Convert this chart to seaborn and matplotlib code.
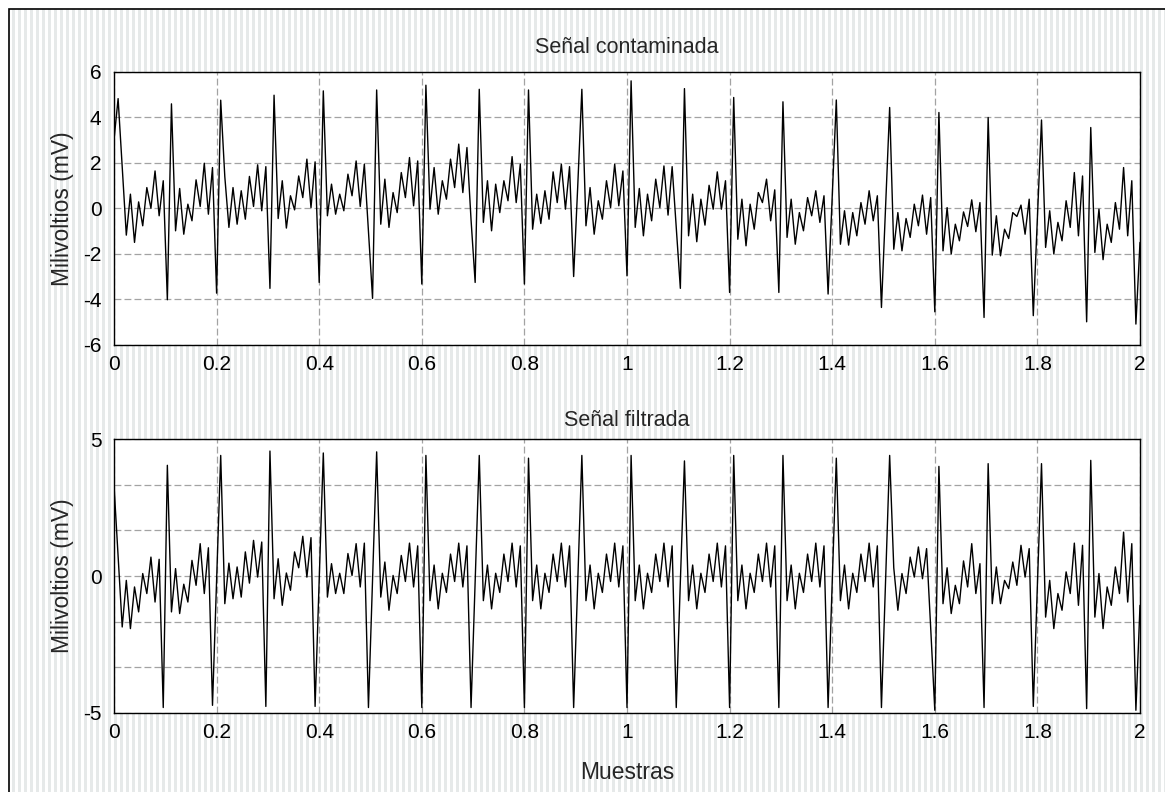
import numpy as np
import pandas as pd
import matplotlib
matplotlib.use("Agg")
import matplotlib.pyplot as plt
from matplotlib.colors import ListedColormap
import seaborn as sns

# ---------------- data ----------------
fs = 125.0  # muestras por segundo

contaminada = [
    3.02, 4.83, 1.80, -1.17, 0.63, -1.49, 0.29, -0.76, 0.92, 0.01, 1.65, -0.32, 1.22, -4.01,
    4.60, -0.98, 0.88, -1.13, 0.19, -0.54, 1.26, 0.09, 1.99, -0.25, 1.80, -3.72,
    4.76, 1.40, -0.83, 0.92, -0.69, 0.78, -0.47, 1.41, 0.09, 1.92, -0.10, 1.84, -3.51,
    4.98, -0.44, 1.22, -0.86, 0.56, -0.06, 1.43, 0.48, 2.17, 0.04, 2.05, -3.25,
    5.17, -0.32, 1.07, -0.25, 0.63, -0.10, 1.51, 0.56, 2.09, 0.09, 1.95, -1.00, -3.95,
    5.21, -0.69, 1.29, -0.83, 0.70, -0.18, 1.58, 0.48, 2.24, 0.12, 2.09, -3.32,
    5.42, -0.03, 1.80, -0.25, 1.22, 0.41, 2.17, 0.92, 2.83, 0.70, 2.68, -0.50, -3.25,
    5.24, -0.61, 1.22, -0.98, 1.07, -0.18, 1.22, 0.34, 2.28, 0.26, 1.95, -3.32,
    5.21, -0.91, 0.63, -0.66, 0.78, -0.47, 1.61, 0.26, 1.95, -0.03, 1.84, -2.99, 1.00,
    5.24, -0.76, 0.92, -1.13, 0.34, -0.47, 1.22, 0.04, 1.95, 0.12, 1.65, -2.96,
    5.61, -0.83, 0.88, -1.20, 0.63, -0.54, 1.29, 0.04, 1.87, -0.29, 1.84, -0.80, -3.51,
    5.27, -1.20, 0.63, -1.46, 0.41, -0.73, 1.02, -0.03, 1.61, -0.03, 1.22, -3.69,
    4.88, -1.35, 0.41, -1.64, 0.19, -0.91, 0.70, 0.26, 1.29, -0.54, 0.82, -3.69,
    4.69, -1.27, 0.41, -1.57, -0.18, -0.98, 0.48, -0.32, 0.78, -0.61, 0.56, -3.76, 0.50,
    4.77, -1.57, -0.10, -1.61, -0.18, -1.20, 0.26, -0.69, 0.78, -0.54, 0.56, -4.35, 0.00,
    4.44, -1.79, -0.18, -1.86, -0.44, -1.27, 0.19, -0.76, 0.59, -1.13, 0.48, -4.54,
    4.22, -1.86, 0.04, -2.00, -0.69, -1.42, -0.15, -0.79, 0.38, -1.02, 0.26, -4.79,
    4.00, -2.05, -0.32, -2.08, -0.91, -1.32, -0.18, -0.35, 0.15, -1.13, 0.41, -4.71, -0.40,
    3.89, -1.71, -0.10, -2.00, -0.61, -1.42, 0.34, -0.83, 1.58, -1.20, 1.43, -4.98,
    3.56, -1.93, -0.03, -2.25, -0.69, -1.49, 0.26, -0.91, 1.80, -1.20, 1.22, -5.08, -1.49,
]

filtrada = [
    3.31, 0.70, -1.86, -0.16, -1.92, -0.40, -1.31, 0.09, -0.64, 0.69, -0.95, 0.61, -4.80,
    4.04, -1.31, 0.27, -1.37, -0.30, -0.95, 0.57, -0.34, 1.18, -0.64, 1.03, -4.72, -0.20,
    4.40, -1.01, 0.47, -0.83, 0.33, -0.77, 0.88, -0.26, 1.30, -0.04, 1.24, -4.76,
    4.56, -0.83, 0.63, -1.07, 0.11, -0.52, 0.88, 0.30, 1.45, -0.04, 1.40, -4.76, -0.10,
    4.49, -0.77, 0.45, -0.64, 0.10, -0.64, 0.82, 0.02, 1.18, -0.40, 1.20, -4.80, -0.10,
    4.53, -0.77, 0.51, -1.25, 0.02, -0.64, 0.75, -0.20, 1.20, -0.40, 1.10, -4.80,
    4.40, -0.90, 0.40, -1.20, 0.10, -0.60, 0.80, -0.20, 1.20, -0.40, 1.10, -4.80, -0.20,
    4.40, -0.90, 0.40, -1.20, 0.10, -0.60, 0.80, -0.20, 1.20, -0.40, 1.10, -4.80,
    4.30, -0.90, 0.40, -1.20, 0.10, -0.60, 0.80, -0.20, 1.20, -0.40, 1.10, -4.80, -0.20,
    4.40, -0.90, 0.40, -1.20, 0.10, -0.60, 0.80, -0.20, 1.20, -0.40, 1.10, -4.80,
    4.40, -0.90, 0.40, -1.20, 0.10, -0.60, 0.80, -0.20, 1.20, -0.40, 1.10, -4.80, -0.20,
    4.20, -0.90, 0.40, -1.20, 0.10, -0.60, 0.80, -0.20, 1.20, -0.40, 1.10, -4.80,
    4.40, -0.90, 0.40, -1.20, 0.10, -0.60, 0.80, -0.20, 1.20, -0.40, 1.10, -4.80,
    4.40, -0.90, 0.40, -1.20, 0.10, -0.60, 0.80, -0.20, 1.20, -0.40, 1.10, -4.80, -0.20,
    4.30, -0.90, 0.40, -1.20, 0.10, -0.60, 0.80, -0.20, 1.20, -0.40, 1.10, -4.80, -0.20,
    4.40, 0.30, -1.25, 0.09, -0.64, 0.69, -0.04, 1.06, -0.10, 1.00, -1.90, -4.90,
    4.00, -1.01, 0.30, -1.37, -0.34, -1.01, 0.55, -0.40, 1.18, -0.64, 0.45, -4.80,
    4.10, -1.01, 0.33, -1.01, -0.16, -0.46, 0.51, -0.34, 1.12, -0.04, 1.00, -4.76, -0.30,
    4.10, -1.50, -0.16, -1.92, -0.64, -1.25, 0.15, -0.64, 1.20, -1.07, 1.12, -4.84,
    4.22, -1.50, 0.09, -1.92, -0.40, -1.07, 0.33, -0.64, 1.60, -0.95, 1.18, -4.90, -1.07,
]

xticks = [0, 0.2, 0.4, 0.6, 0.8, 1.0, 1.2, 1.4, 1.6, 1.8, 2.0]
xtick_labels = ["0", "0.2", "0.4", "0.6", "0.8", "1", "1.2", "1.4", "1.6", "1.8", "2"]
top_yticks = [-6, -4, -2, 0, 2, 4, 6]
top_ylabels = ["-6", "-4", "-2", "0", "2", "4", "6"]
bot_yticks = [-5, -10 / 3, -5 / 3, 0, 5 / 3, 10 / 3, 5]
bot_ylabels = ["-5", "", "", "0", "", "", "5"]

t_top = np.arange(len(contaminada)) / fs
t_bot = np.arange(len(filtrada)) / fs
df_top = pd.DataFrame({"t": t_top, "mV": contaminada})
df_bot = pd.DataFrame({"t": t_bot, "mV": filtrada})

# ---------------- style ----------------
sns.set_style("white")
plt.rcParams["font.family"] = ["Liberation Sans", "DejaVu Sans"]
plt.rcParams["axes.unicode_minus"] = False

W, H = 1165, 792
fig = plt.figure(figsize=(W / 100, H / 100), dpi=100)
fig.patch.set_facecolor("white")

# striped figure background, white margin and black frame on top / left
bg = fig.add_axes([0, 0, 1, 1], zorder=-10)
cols = np.arange(W)
pattern = ((cols // 3) % 2 == 0).astype(int)[None, :]
bg.imshow(pattern, cmap=ListedColormap(["white", "#e6e9e9"]), aspect="auto",
          extent=(0, W, 0, H), interpolation="nearest")
bg.fill_between([0, 8.5], 0, H, color="white", linewidth=0)
bg.fill_between([0, W], H - 8.5, H, color="white", linewidth=0)
bg.plot([8.5, 8.5, W], [0, H - 8.5, H - 8.5], color="black", linewidth=1.2,
        solid_joinstyle="miter")
bg.set_xlim(0, W)
bg.set_ylim(0, H)
bg.axis("off")


def px_axes(left, top, right, bottom):
    return [left / W, 1 - bottom / H, (right - left) / W, (bottom - top) / H]


ax1 = fig.add_axes(px_axes(114, 72, 1140, 345))
ax2 = fig.add_axes(px_axes(114, 439, 1140, 713))

FS_TICK = 15
FS_TITLE = 15.5
FS_LABEL = 16.5
grid_kw = dict(color="#a3a3a3", linestyle=(0, (5.5, 2.5)), linewidth=0.9)

for ax, df, yt, yl, ylim, title, tpad in [
    (ax1, df_top, top_yticks, top_ylabels, (-6, 6), "Señal contaminada", 13.5),
    (ax2, df_bot, bot_yticks, bot_ylabels, (-5, 5), "Señal filtrada", 9.5),
]:
    ax.set_facecolor("white")
    sns.lineplot(data=df, x="t", y="mV", ax=ax, color="black", linewidth=1.0)
    ax.set_xlim(0, 2)
    ax.set_ylim(*ylim)
    ax.set_xticks(xticks)
    ax.set_xticklabels(xtick_labels)
    ax.set_yticks(yt)
    ax.set_yticklabels(yl)
    ax.grid(True, **grid_kw)
    ax.set_axisbelow(True)
    ax.tick_params(length=0, labelsize=FS_TICK, colors="black")
    ax.tick_params(axis="x", pad=7)
    ax.tick_params(axis="y", pad=9)
    for s in ax.spines.values():
        s.set_color("black")
        s.set_linewidth(1.0)
    ax.set_title(title, fontsize=FS_TITLE, pad=tpad)
    ax.set_ylabel("Milivoltios (mV)", fontsize=FS_LABEL)
    ax.yaxis.set_label_coords(-0.039, 0.5)
    ax.set_xlabel("")

ax2.set_xlabel("Muestras", fontsize=FS_LABEL)
ax2.xaxis.set_label_coords(0.5, -0.175)

fig.savefig("out.png", dpi=100, facecolor="white")
